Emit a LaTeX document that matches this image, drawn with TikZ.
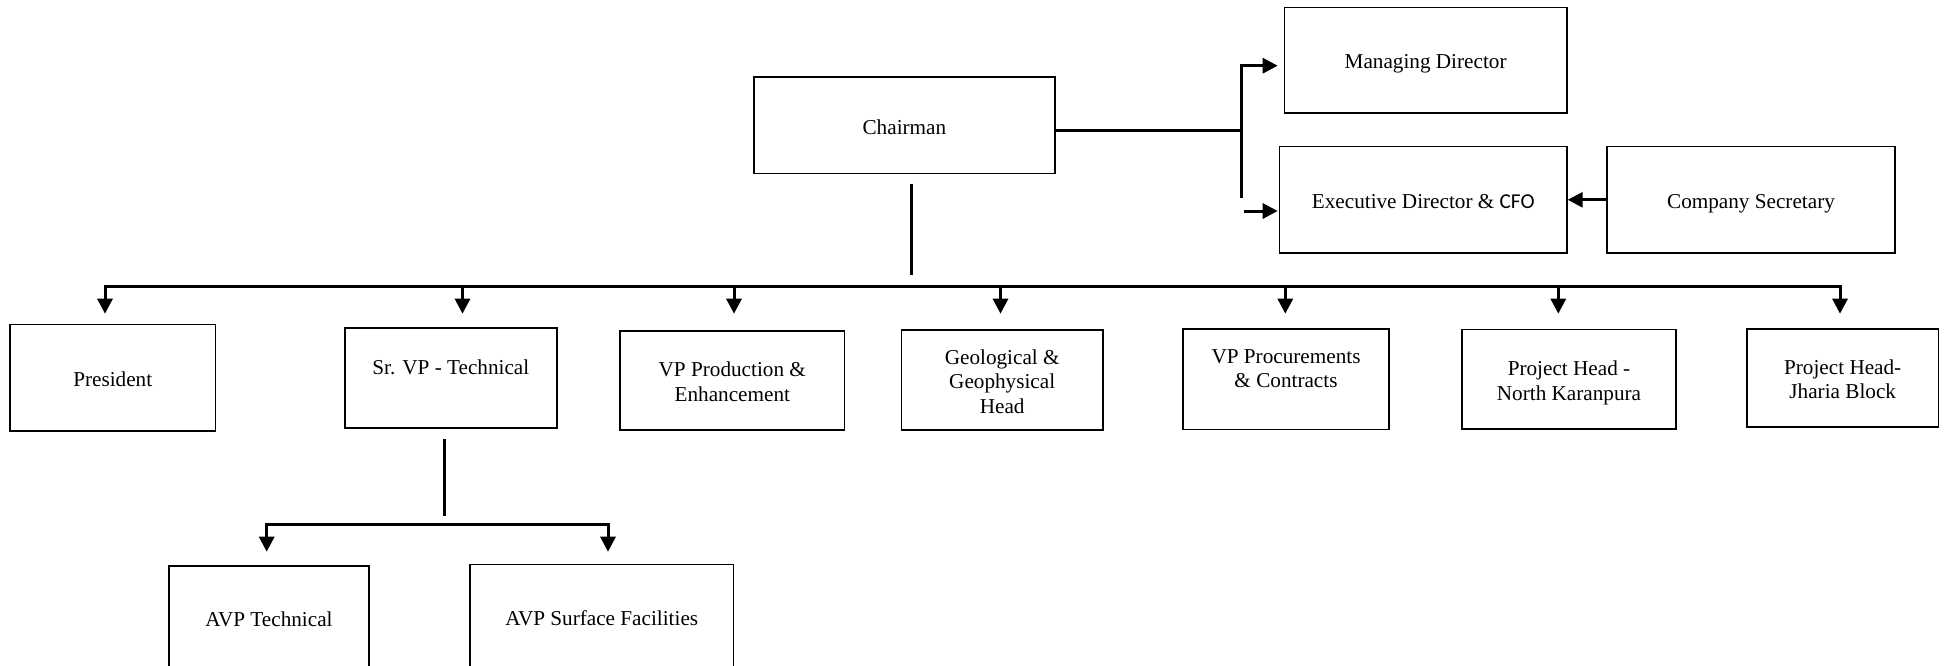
\documentclass[tikz,border=0pt]{standalone}
\usepackage{fontspec}
\setmainfont{Liberation Serif}
\newfontfamily\calfont{Carlito}
\usetikzlibrary{arrows.meta,calc}
\newcommand{\tp}{\rule{0pt}{11.1pt}}
\newcommand{\bt}{\rule[-2.4pt]{0pt}{2.4pt}}
\begin{document}
\begin{tikzpicture}[x=0.5pt,y=-0.5pt,
  bx/.style={draw, line width=0.85pt, inner sep=0pt, align=center,
    font=\fontsize{10.6pt}{12.25pt}\selectfont},
  conn/.style={line width=1.5pt, line join=miter},
  tip/.style={-{Triangle[length=7.5pt,width=7.5pt]}},
  tips/.style={{Triangle[length=7.5pt,width=7.5pt]}-{Triangle[length=7.5pt,width=7.5pt]}}
]
\path[use as bounding box] (0,0) rectangle (1944,665);
\clip (0,0) rectangle (1944,665);

% boxes
\node[bx, minimum width=150.6pt, minimum height=48.3pt] (chair) at (904.4,125.3) {\tp Chairman\bt};
\node[bx, minimum width=141.2pt, minimum height=52.8pt] (md) at (1425.6,60.2) {\tp Managing Director\bt};
\node[bx, minimum width=143.65pt, minimum height=53.25pt] (ed) at (1423.2,199.8) {\tp Executive Director \& {\calfont CFO}\bt};
\node[bx, minimum width=144pt, minimum height=53.25pt] (cs) at (1751,199.8) {\tp Company Secretary\bt};

\node[bx, minimum width=102.8pt, minimum height=53.35pt] (pres) at (112.7,377.7) {\tp President\bt};
\node[bx, minimum width=106pt, minimum height=50.15pt] (srvp) at (450.8,377.9) {\tp Sr. VP - Technical\\\bt};
\node[bx, minimum width=112.3pt, minimum height=49.65pt] (vpprod) at (732.3,380.4) {\tp VP Production \&\\Enhancement\bt};
\node[bx, minimum width=100.85pt, minimum height=50pt] (geo) at (1002.2,380) {\tp Geological \&\\Geophysical\\Head\bt};
\node[bx, minimum width=103pt, minimum height=50.15pt] (vpproc) at (1286,379.2) {\tp VP Procurements\\\& Contracts\\\bt};
\node[bx, minimum width=107pt, minimum height=49.85pt] (nk) at (1569,379.2) {\tp Project Head -\\North Karanpura\bt};
\node[bx, minimum width=95.9pt, minimum height=48.7pt] (jb) at (1842.7,378) {\tp Project Head-\\Jharia Block\bt};

\node[bx, minimum width=100pt, minimum height=51.65pt] (avpt) at (269,617.3) {\tp AVP Technical\bt};
\node[bx, minimum width=131.8pt, minimum height=52.35pt] (avps) at (601.8,616.7) {\tp AVP Surface Facilities\bt};

% coordinates
\coordinate (cj) at (1241,130);
\coordinate (vtop) at (1241,65.7);
\coordinate (vbot) at (1241,198);
\coordinate (mdtip) at (1277.7,65.7);
\coordinate (edst) at (1243.6,211);
\coordinate (edtip) at (1277.7,211);

\coordinate (cd1) at (911,183.5);
\coordinate (cd2) at (911,275);

\coordinate (b1) at (105,286);   \coordinate (t1) at (105,313.7);
\coordinate (b2) at (462.5,286); \coordinate (t2) at (462.5,313.7);
\coordinate (b3) at (734,286);   \coordinate (t3) at (734,313.7);
\coordinate (b4) at (1000.5,286);\coordinate (t4) at (1000.5,313.7);
\coordinate (b5) at (1285.3,286);\coordinate (t5) at (1285.3,313.7);
\coordinate (b6) at (1558.3,286);\coordinate (t6) at (1558.3,313.7);
\coordinate (b7) at (1840,286);  \coordinate (t7) at (1840,313.7);

\coordinate (sd1) at (444,439);
\coordinate (sd2) at (444,515.7);
\coordinate (s1) at (266.7,524.4); \coordinate (st1) at (266.7,551.7);
\coordinate (s2) at (608,524.4);   \coordinate (st2) at (608,551.7);

% connectors
\draw[conn] ([yshift=-2.35pt]chair.east) -- (cj);
\draw[conn,tip] (vbot) -- (vtop) -- (mdtip);
\draw[conn,tip] (edst) -- (edtip);
\draw[conn,tip] (cs.west) -- (ed.east);

\draw[conn] (cd1) -- (cd2);
\draw[conn,tips] (t1) -- (b1) -- (b7) -- (t7);
\draw[conn,tip] (b2) -- (t2);
\draw[conn,tip] (b3) -- (t3);
\draw[conn,tip] (b4) -- (t4);
\draw[conn,tip] (b5) -- (t5);
\draw[conn,tip] (b6) -- (t6);

\draw[conn] (sd1) -- (sd2);
\draw[conn,tips] (st1) -- (s1) -- (s2) -- (st2);
\end{tikzpicture}
\end{document}
